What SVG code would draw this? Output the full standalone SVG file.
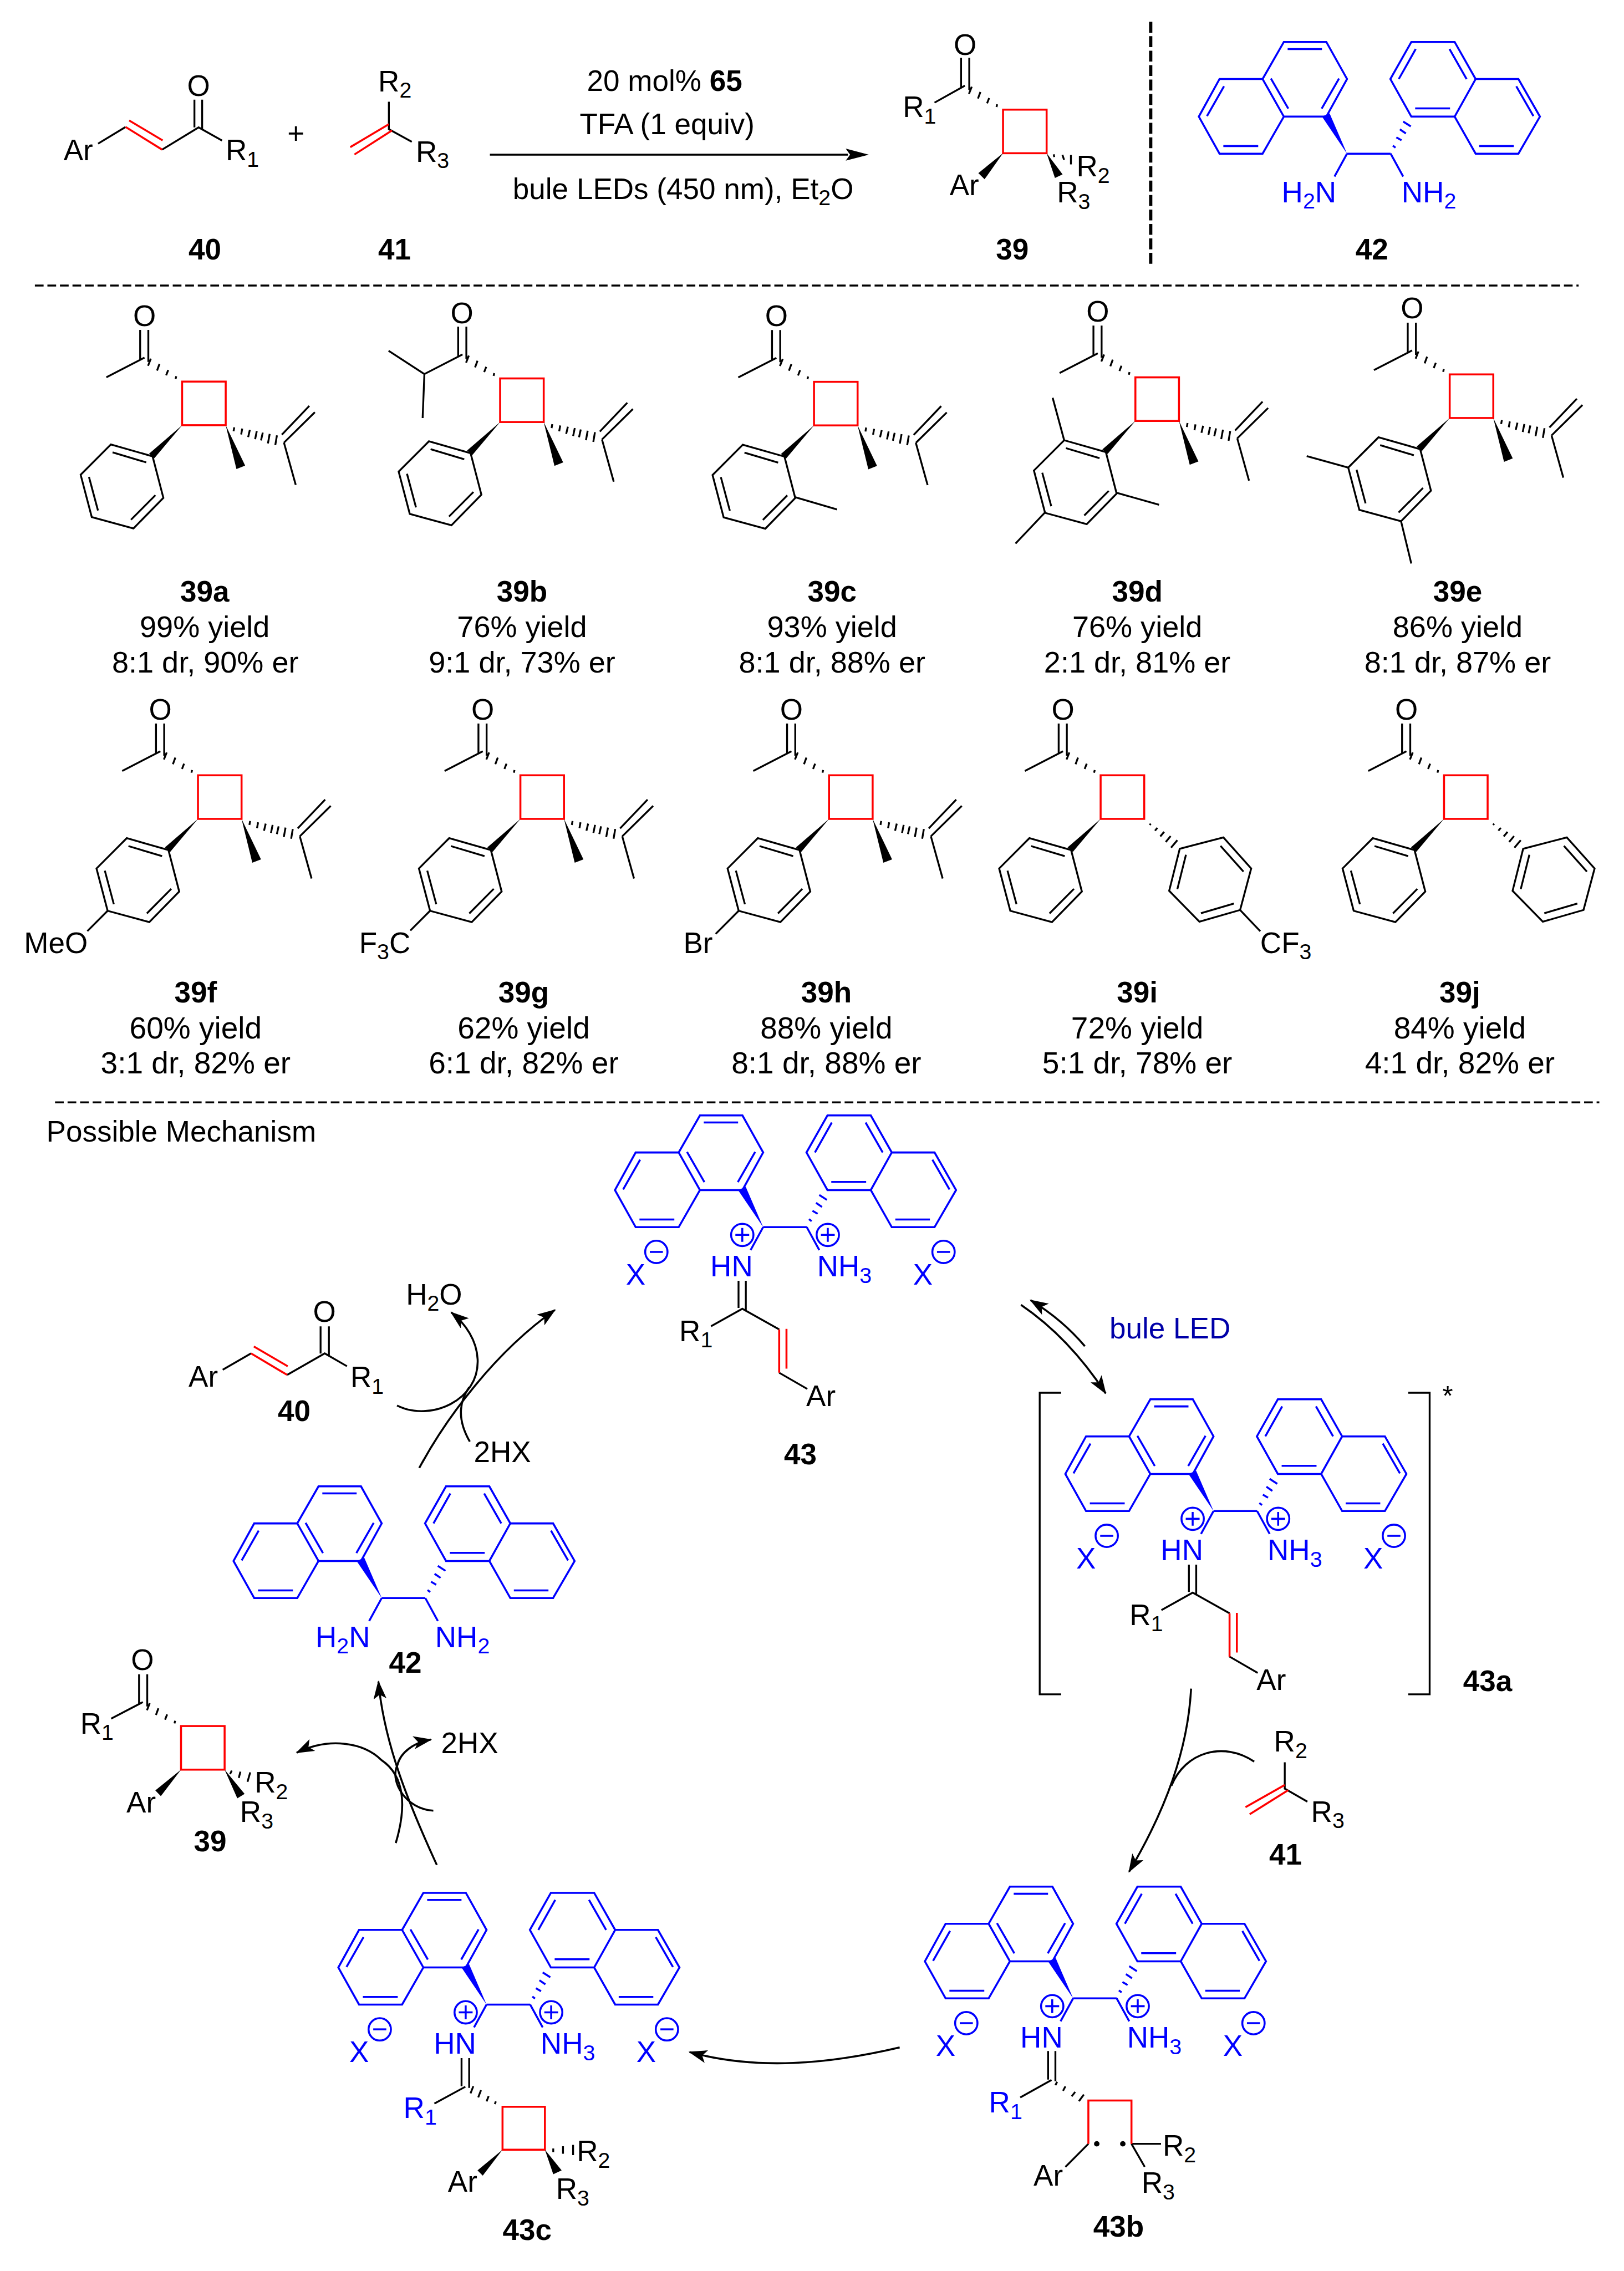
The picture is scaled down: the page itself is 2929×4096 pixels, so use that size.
<svg xmlns="http://www.w3.org/2000/svg" xmlns:xlink="http://www.w3.org/1999/xlink" width="2929" height="4096" viewBox="0 0 2929 4096">
<style>
text{font-family:"Liberation Sans",Arial,sans-serif;font-size:54px;fill:#000}
.lb{font-weight:bold;text-anchor:middle}
.c{text-anchor:middle}
.y1{text-anchor:middle;font-size:55px}
.y2{text-anchor:middle;font-size:56px}
.u{fill:#00f}
.s{font-size:40px}
.k{fill:none;stroke:#000;stroke-width:3.4}
.r{fill:none;stroke:#f00;stroke-width:3.6}
.n{fill:none;stroke:#00f;stroke-width:3.6}
.nf{fill:#00f}
.kf{fill:#000}
.arr{fill:none;stroke:#000;stroke-width:3.6}
</style>
<defs>
<marker id="ah" markerUnits="userSpaceOnUse" markerWidth="34" markerHeight="24" viewBox="0 0 34 24" refX="32" refY="12" orient="auto"><path d="M34,12L0,0L8,12L0,24Z"/></marker>
<g id="binap">
<path class="n" d="M-116,-205H-38L0,-137L-38,-68H-116L-155,-137Z M-155,-137H-234L-272,-68L-234,0H-155L-116,-68 M118,-205H197.5L236,-137L197.5,-68H118L79.5,-137Z M236,-137H314.5L354,-68L314.5,0H236L197.5,-68 M0,0H80 M0,0L-23,42 M80,0L103,42"/>
<path class="n" d="M-109,-192H-46 M-14.7,-138L-46.5,-82.6 M-139.7,-138L-107.8,-82.6 M-225.8,-123.7L-257,-69 M-227,-14H-163 M126,-192L95,-137 M188,-192L219.4,-137 M125,-83H189 M310.6,-123.7L342,-69 M242.5,-14H306"/>
<polygon class="nf" points="0,0 -46,-68 -32,-74"/>
<path class="n" d="M84,-14.7L89,-11 M90.5,-30L100,-24.5 M97,-44.6L108,-37 M103,-59L117,-50"/>
</g>
<g id="charges">
<g class="n" stroke-width="3"><circle cx="-38.3" cy="14.3" r="20.5"/><path d="M-51,14.3H-25.6 M-38.3,1.6V27"/><circle cx="118.6" cy="14.3" r="20.5"/><path d="M106,14.3H131.3 M118.6,1.6V27"/><circle cx="-196" cy="45.5" r="20.5"/><path d="M-208,45.5H-184"/><circle cx="331" cy="45.5" r="20.5"/><path d="M319,45.5H343"/></g>
</g>
<g id="enim">
<path class="k" d="M-45.2,98.4V148.4 M-31.8,98.4V152 M-95.6,181.9L-38.2,149.8L29.4,187.7 M29.4,267.2L81,297"/>
<path class="r" d="M29.4,187.7V267.2 M42.8,186.8V259.6"/>
</g>
<rect id="cb" class="r" x="0" y="-80" width="80" height="80"/>
<path id="cox" class="k" d="M-77,-175V-120 M-62,-175V-116 M-57.4,-122L-62.5,-109 M-41.5,-112.5L-46,-100.3 M-25.5,-101.3L-29.3,-91.6 M-10.8,-89.7L-12,-84.8"/>
<path id="me" class="k" d="M-139,-88L-69,-124"/>
<g id="ph">
<polygon class="kf" points="0,0 -60.6,52.3 -51,60.6"/>
<path class="k" d="M-54.2,57.2L-130.7,35.4L-186.2,91L-165.8,168.7L-89.3,189.5L-34.4,133.3Z M-127.6,49.9L-65.8,68.3 M-170.9,95L-154.4,156.6 M-93.8,173.5L-49,128.4"/>
</g>
<g id="ipr">
<polygon class="kf" points="80,0 99.7,80.5 115.7,74.2"/>
<path class="k" d="M95.7,3.9L94.4,11.1 M110.3,6.3L108.4,17 M124.3,8.7L121.2,21.8 M137,11L134,25.7 M148,13.6L144.8,28 M160.7,16L157.5,33.4 M174,18.6L171,36.4 M186.9,32L243.6,-23.8 M183,17.4L233.4,-35.4 M186.9,32L208.5,109.5"/>
</g>
<g id="ar">
<path class="k" d="M90,11.2L92,8.8 M99.8,21.7L104.2,16.3 M109.5,32.2L116.5,23.8 M119.5,42.4L128.5,31.6 M129.2,52.9L140.8,39.1 M145.2,54.8L225.3,34L276.3,91L256,167.2L181.3,188.7L125.8,132Z M220,49.6L262.2,96.8 M156.6,65.8L140.8,128.8 M244.7,155.3L184,173.2"/>
</g>
</defs>
<g transform="scale(0.9828)">
<g id="connectors">
<path class="k" style="stroke-width:3.4" stroke-dasharray="16 7" d="M64,524H2897 M101,2023H2935"/>
<path class="k" style="stroke-width:6" stroke-dasharray="20 6.5" d="M2111.7,40V487.5"/>
<path class="arr" d="M899,283.8H1556"/>
<path class="kf" d="M1552,272.8L1594.4,283.8L1552,294.8L1560,283.8Z"/>
<path class="arr" marker-end="url(#ah)" d="M769.4,2694C820,2600 910,2480 1018.4,2404"/>
<path class="arr" marker-end="url(#ah)" d="M728.6,2579.4C790,2610 880,2570 876.5,2494.5C875,2460 855,2430 828,2408.4"/>
<path class="arr" d="M862.2,2645.7Q830,2590 861.2,2545.6"/>
<path class="arr" marker-end="url(#ah)" d="M1873.7,2394.7C1933,2435 1985,2490 2029,2557"/>
<path class="arr" marker-end="url(#ah)" d="M1990.8,2470.5Q1950,2422 1891.2,2386"/>
<path class="arr" marker-end="url(#ah)" d="M2185.8,3099C2180,3210 2140,3320 2072,3435"/>
<path class="arr" d="M2301.6,3232.8C2245,3195 2175,3215 2149.8,3277"/>
<path class="arr" marker-end="url(#ah)" d="M1651,3757.3C1520,3788 1390,3800 1265.4,3765.9"/>
<path class="arr" marker-end="url(#ah)" d="M801.6,3422.5C750,3310 705,3200 694.4,3086"/>
<path class="arr" marker-end="url(#ah)" d="M726.3,3382.3C745,3320 745,3260 700,3230C668,3198 605,3187 544.5,3216.5"/>
<path class="arr" marker-end="url(#ah)" d="M795.2,3323C745,3320 715,3270 729,3240C735,3215 760,3198 790.7,3192.5"/>
</g>
<g id="n40-top">
<path class="k" d="M180,263.6L230.5,233 M297.5,274.6L364.5,233.8L407.5,258 M356.8,233.8V183 M371,236V183"/>
<path class="r" d="M230.5,233L297.5,274.6 M237,221L298.5,257.7"/>
<text x="116.7" y="294">Ar</text><text class="c" x="364.5" y="176.4">O</text><text x="414" y="294">R<tspan class="s" dy="12">1</tspan></text>
<text class="lb" x="376" y="476.5">40</text>
</g>
<text id="plus" class="c" x="543" y="264">+</text>
<g id="n41-top">
<path class="k" d="M713.6,186.7V237L755.7,260.3"/>
<path class="r" d="M713.6,228L642.8,270 M719.4,239.4L650.5,283.5"/>
<text x="694" y="167.5">R<tspan class="s" dy="12">2</tspan></text><text x="763" y="296.8">R<tspan class="s" dy="12">3</tspan></text>
<text class="lb" x="724" y="476.5">41</text>
</g>
<g id="conditions">
<text x="1077" y="166.8">20 mol% <tspan font-weight="bold">65</tspan></text>
<text x="1063.7" y="246.4">TFA (1 equiv)</text>
<text x="941" y="364.8">bule LEDs (450 nm), Et<tspan class="s" dy="12">2</tspan><tspan dy="-12">O</tspan></text>
</g>
<g id="n39-top" transform="translate(1840.7,281.2)">
<use href="#cb"/><use href="#cox"/>
<path class="k" d="M-125.7,-92.8L-70,-124 M93,2L94,7 M109,3L112,12 M124.6,3.3V20.6"/>
<polygon class="kf" points="0,0 -45.3,36.5 -33.9,47.8"/>
<polygon class="kf" points="80,0 95.3,45.4 109.3,38.8"/>
<text class="c" x="-69.7" y="-180.7">O</text><text x="-184" y="-66.7">R<tspan class="s" dy="12">1</tspan></text>
<text x="-98" y="76.8">Ar</text><text x="134.8" y="42.1">R<tspan class="s" dy="12">2</tspan></text><text x="98.9" y="90.2">R<tspan class="s" dy="12">3</tspan></text>
<text class="lb" x="17" y="195.3">39</text>
</g>
<g id="n42-top" transform="translate(2472,282)">
<use href="#binap"/>
<text class="u" x="-120" y="89">H<tspan class="s" dy="12">2</tspan><tspan dy="-12">N</tspan></text><text class="u" x="100" y="89">NH<tspan class="s" dy="12">2</tspan></text>
<text class="lb" x="45.5" y="194.5">42</text>
</g>
<g id="n39a" transform="translate(334.2,780.3)"><use href="#cb"/><use href="#cox"/><use href="#me"/><use href="#ph"/><use href="#ipr"/>
<text class="c" x="-69" y="-182.5">O</text></g>
<g id="n39a-t"><text class="lb" x="375.7" y="1104">39a</text><text class="y1" x="375.7" y="1169.5">99% yield</text><text class="y1" x="376.7" y="1234">8:1 dr, 90% er</text></g>
<g id="n39b" transform="translate(917.8,774.5)"><use href="#cb"/><use href="#cox"/><use href="#ph"/><use href="#ipr"/>
<path class="k" d="M-69,-124L-139,-88L-204.7,-130.9 M-139,-88L-142.2,-7.3"/>
<text class="c" x="-70" y="-181.8">O</text></g>
<g id="n39b-t"><text class="lb" x="958" y="1104">39b</text><text class="y1" x="958" y="1169.5">76% yield</text><text class="y1" x="958" y="1234">9:1 dr, 73% er</text></g>
<g id="n39c" transform="translate(1493.8,780.7)"><use href="#cb"/><use href="#cox"/><use href="#me"/><use href="#ph"/><use href="#ipr"/>
<path class="k" d="M-35.8,131.4L42.3,154.3"/>
<text class="c" x="-69" y="-182.8">O</text></g>
<g id="n39c-t"><text class="lb" x="1527" y="1104">39c</text><text class="y1" x="1527" y="1169.5">93% yield</text><text class="y1" x="1527" y="1234">8:1 dr, 88% er</text></g>
<g id="n39d" transform="translate(2083.6,772.5)"><use href="#cb"/><use href="#cox"/><use href="#me"/><use href="#ph"/><use href="#ipr"/>
<path class="k" d="M-130.7,35.4L-151.8,-42.5 M-35.8,131.4L43.4,153.9 M-166,168L-220,225"/>
<text class="c" x="-69" y="-182.8">O</text></g>
<g id="n39d-t"><text class="lb" x="2087" y="1104">39d</text><text class="y1" x="2087" y="1169.5">76% yield</text><text class="y1" x="2087" y="1234">2:1 dr, 81% er</text></g>
<g id="n39e" transform="translate(2660.4,767.1)"><use href="#cb"/><use href="#cox"/><use href="#me"/><use href="#ph"/><use href="#ipr"/>
<path class="k" d="M-186.2,91L-262.4,70 M-89.3,189.5L-70.5,267"/>
<text class="c" x="-69" y="-182.8">O</text></g>
<g id="n39e-t"><text class="lb" x="2675" y="1104">39e</text><text class="y1" x="2675" y="1169.5">86% yield</text><text class="y1" x="2675" y="1234">8:1 dr, 87% er</text></g>
<g id="n39f" transform="translate(363.3,1502.8)"><use href="#cb"/><use href="#cox"/><use href="#me"/><use href="#ph"/><use href="#ipr"/>
<path class="k" d="M-165.8,168.7L-203,206"/>
<text class="c" x="-69" y="-182.2">O</text><text x="-319.3" y="245.9">MeO</text></g>
<g id="n39f-t"><text class="lb" x="359" y="1840">39f</text><text class="y2" x="359" y="1906">60% yield</text><text class="y2" x="359" y="1970">3:1 dr, 82% er</text></g>
<g id="n39g" transform="translate(955,1502.8)"><use href="#cb"/><use href="#cox"/><use href="#me"/><use href="#ph"/><use href="#ipr"/>
<path class="k" d="M-165.8,168.7L-202,205"/>
<text class="c" x="-69" y="-182.2">O</text><text x="-296" y="245.9">F<tspan class="s" dy="12">3</tspan><tspan dy="-12">C</tspan></text></g>
<g id="n39g-t"><text class="lb" x="961" y="1840">39g</text><text class="y2" x="961" y="1906">62% yield</text><text class="y2" x="961" y="1970">6:1 dr, 82% er</text></g>
<g id="n39h" transform="translate(1521.4,1502.8)"><use href="#cb"/><use href="#cox"/><use href="#me"/><use href="#ph"/><use href="#ipr"/>
<path class="k" d="M-165.8,168.7L-208,211"/>
<text class="c" x="-69" y="-182.2">O</text><text x="-267.4" y="245.9">Br</text></g>
<g id="n39h-t"><text class="lb" x="1516.5" y="1840">39h</text><text class="y2" x="1516.5" y="1906">88% yield</text><text class="y2" x="1516.5" y="1970">8:1 dr, 88% er</text></g>
<g id="n39i" transform="translate(2019.8,1502.8)"><use href="#cb"/><use href="#cox"/><use href="#me"/><use href="#ph"/><use href="#ar"/>
<path class="k" d="M256,167.2L293,206.3"/>
<text class="c" x="-69" y="-182.2">O</text><text x="292.8" y="245.9">CF<tspan class="s" dy="12">3</tspan></text></g>
<g id="n39i-t"><text class="lb" x="2087" y="1840">39i</text><text class="y2" x="2087" y="1906">72% yield</text><text class="y2" x="2087" y="1970">5:1 dr, 78% er</text></g>
<g id="n39j" transform="translate(2650,1502.8)"><use href="#cb"/><use href="#cox"/><use href="#me"/><use href="#ph"/><use href="#ar"/>
<text class="c" x="-69" y="-182.2">O</text></g>
<g id="n39j-t"><text class="lb" x="2679" y="1840">39j</text><text class="y2" x="2679" y="1906">84% yield</text><text class="y2" x="2679" y="1970">4:1 dr, 82% er</text></g>
<text id="mech-title" x="85" y="2095">Possible Mechanism</text>
<g id="n43" transform="translate(1400.5,2252)">
<use href="#binap"/><use href="#charges"/><use href="#enim"/>
<text class="u" x="-97" y="90">HN</text><text class="u" x="99" y="90">NH<tspan class="s" dy="12">3</tspan></text>
<text class="u" x="-252" y="105.8">X</text><text class="u" x="275" y="105.8">X</text>
<text x="-154" y="209">R<tspan class="s" dy="12">1</tspan></text><text x="79" y="328.3">Ar</text>
<text class="lb" x="68.3" y="435.5">43</text>
</g>
<g id="n43a" transform="translate(2227,2773)">
<use href="#binap"/><use href="#charges"/><use href="#enim"/>
<path class="k" d="M-279.7,-217H-319V336.3H-279.7 M357.3,-217H396.6V336.3H357.3"/>
<text class="u" x="-97" y="90">HN</text><text class="u" x="99" y="90">NH<tspan class="s" dy="12">3</tspan></text>
<text class="u" x="-252" y="105.8">X</text><text class="u" x="275" y="105.8">X</text>
<text x="-154" y="209">R<tspan class="s" dy="12">1</tspan></text><text x="79" y="328.3">Ar</text>
<text x="420" y="-194" style="font-size:50px">*</text>
<text class="lb" x="503" y="330.6">43a</text>
</g>
<text id="blue-led" x="2036" y="2456.7" style="fill:#0000a8">bule LED</text>
<g id="n41-mech">
<path class="k" d="M2357.7,3234.2V3282.5L2399.2,3306.4"/>
<path class="r" d="M2357.7,3275.7L2285.6,3316.6 M2364,3285.3L2293.3,3329.5"/>
<text x="2337.8" y="3214.4">R<tspan class="s" dy="12">2</tspan></text><text x="2406" y="3343">R<tspan class="s" dy="12">3</tspan></text>
<text class="lb" x="2359" y="3421.5">41</text>
</g>
<g id="n43b" transform="translate(1969.3,3667.4)">
<use href="#binap"/><use href="#charges"/>
<path class="k" d="M-45.9,96.6V149 M-32.5,96.6V152 M-97,181.8L-39.6,149.8 M107.1,266.9H161.3 M107.1,266.9L131.4,309.2 M28,266.9L-14.1,309.2 M-29.3,153.2L-32.5,159.3 M-14.1,161.4L-18.5,169.6 M3.8,171.6L-2.6,179.8 M19.7,176.4L10.7,188.6"/>
<path class="r" d="M28,266.9V187.3H107.1V266.9"/>
<circle class="kf" cx="43.4" cy="266.9" r="5"/><circle class="kf" cx="91.2" cy="266.9" r="5"/>
<text class="u" x="-97" y="90">HN</text><text class="u" x="99" y="90">NH<tspan class="s" dy="12">3</tspan></text>
<text class="u" x="-252" y="105.8">X</text><text class="u" x="275" y="105.8">X</text>
<text class="u" x="-154.5" y="209">R<tspan class="s" dy="12">1</tspan></text>
<text x="-72.7" y="343.9">Ar</text><text x="164.4" y="288.6">R<tspan class="s" dy="12">2</tspan></text><text x="125.5" y="356.6">R<tspan class="s" dy="12">3</tspan></text>
<text class="lb" x="83.5" y="437.2">43b</text>
</g>
<g id="n43c" transform="translate(892.9,3678.7)">
<use href="#binap"/><use href="#charges"/>
<path class="k" d="M-45.9,98.3V150 M-31.9,98.3V153 M-95.7,181.7L-38.9,150.8 M-24.3,149.9L-29.4,163.1 M-10.2,157.2L-15.3,170.4 M3.8,168L0,177.8 M17.1,177.8L15.1,182.7 M122.4,264V270.8 M140.3,260.1V273.8 M158.8,257.6V276.3"/>
<rect class="r" x="29.3" y="187.6" width="77.8" height="78.8"/>
<polygon class="kf" points="29.3,266.4 -16.6,304.2 -7,314"/>
<polygon class="kf" points="107.1,266.4 122.4,311.5 137.8,304.2"/>
<text class="u" x="-97" y="90">HN</text><text class="u" x="99" y="90">NH<tspan class="s" dy="12">3</tspan></text>
<text class="u" x="-252" y="105.8">X</text><text class="u" x="275" y="105.8">X</text>
<text class="u" x="-152.6" y="208.6">R<tspan class="s" dy="12">1</tspan></text>
<text x="-70.9" y="343.3">Ar</text><text x="165.6" y="288">R<tspan class="s" dy="12">2</tspan></text><text x="127.4" y="357.1">R<tspan class="s" dy="12">3</tspan></text>
<text class="lb" x="74.6" y="431.5">43c</text>
</g>
<g id="n40-mech">
<path class="k" d="M408.7,2513.7L460.7,2483.7 M527,2523.2L595.9,2483.7L636.7,2507.3 M588.3,2434V2484 M603.6,2434V2488"/>
<path class="r" d="M460.7,2483.7L527,2523.2 M465.8,2471L528,2507.3"/>
<text x="346" y="2544.3">Ar</text><text class="c" x="595.4" y="2425.6">O</text><text x="643" y="2545.5">R<tspan class="s" dy="12">1</tspan></text>
<text class="lb" x="539.8" y="2608">40</text>
</g>
<g id="h2o"><text x="745" y="2393.8">H<tspan class="s" dy="12">2</tspan><tspan dy="-12">O</tspan></text></g>
<text id="hx1" x="869.4" y="2682.7">2HX</text>
<g id="n42-mech" transform="translate(700.5,2932.7)">
<use href="#binap"/>
<text class="u" x="-121.5" y="89.9">H<tspan class="s" dy="12">2</tspan><tspan dy="-12">N</tspan></text><text class="u" x="98" y="89.9">NH<tspan class="s" dy="12">2</tspan></text>
<text class="lb" x="43.4" y="137">42</text>
</g>
<text id="hx2" x="809.4" y="3217.3">2HX</text>
<g id="n39-mech" transform="translate(332.2,3247.6)">
<use href="#cb"/><use href="#cox"/>
<path class="k" d="M-128.2,-93.6L-70,-124 M93.1,1.7L90,8.3 M109,3.7L106,15.3 M127,5L122,22.4"/>
<polygon class="kf" points="0,0 -47.2,38.1 -37,48.5"/>
<polygon class="kf" points="80,0 103.3,52.6 116.7,44.4"/>
<text class="c" x="-70.8" y="-182.4">O</text><text x="-185" y="-66.3">R<tspan class="s" dy="12">1</tspan></text>
<text x="-100.2" y="78.4">Ar</text><text x="135" y="42.3">R<tspan class="s" dy="12">2</tspan></text><text x="108.2" y="96.2">R<tspan class="s" dy="12">3</tspan></text>
<text class="lb" x="53.5" y="150.1">39</text>
</g>
</g>
</svg>
